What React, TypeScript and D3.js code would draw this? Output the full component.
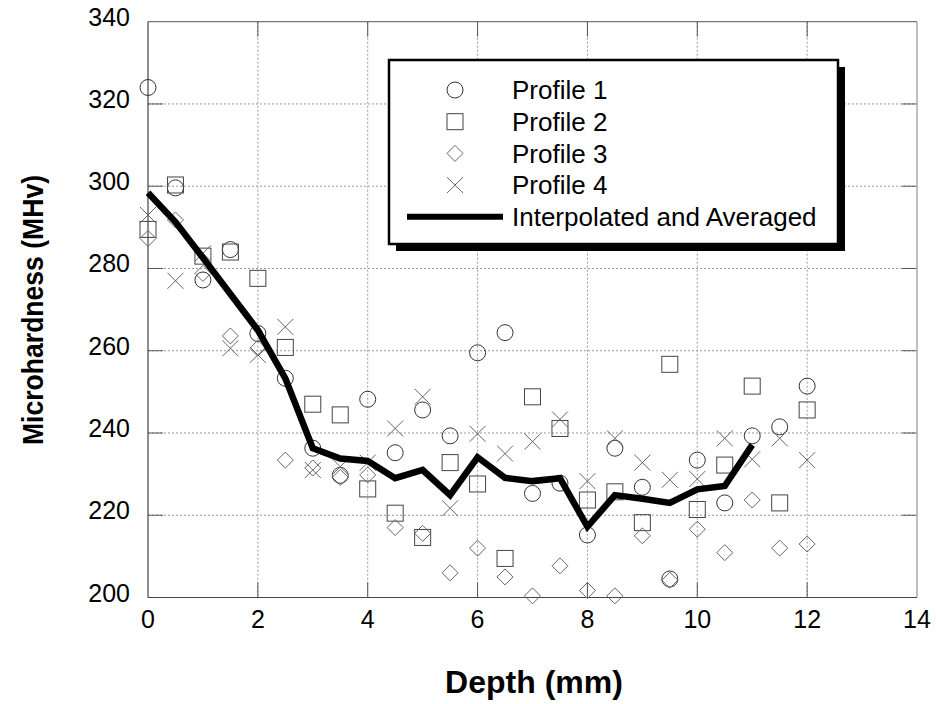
import React from "react";
import * as d3 from "d3";

const depths = [0, 0.5, 1, 1.5, 2, 2.5, 3, 3.5, 4, 4.5, 5, 5.5, 6, 6.5, 7, 7.5, 8, 8.5, 9, 9.5, 10, 10.5, 11, 11.5, 12];
const profile1 = [324, 299.6, 277.2, 284.6, 264.2, 253.3, 236.3, 229.7, 248.2, 235.2, 245.6, 239.3, 259.5, 264.4, 225.3, 227.8, 215.2, 236.3, 226.8, 204.5, 233.4, 223, 239.3, 241.5, 251.4];
const profile2 = [289.5, 300.3, 283, 284, 277.6, 260.8, 247, 244.4, 226.4, 220.5, 214.6, 232.8, 227.6, 209.5, 248.8, 241.1, 223.7, 225.7, 218.2, 256.7, 221.4, 232.2, 251.4, 223, 245.6];
const profile3 = [287.3, 291.8, 278.8, 263.6, 260.6, 233.4, 231.5, 229.2, 229.8, 217, 215.6, 206, 212, 205, 200.4, 207.7, 201.7, 200.4, 215, 204.2, 216.6, 210.9, 223.7, 212, 213];
const profile4 = [293, 277, 283.7, 260.6, 259, 265.8, 231, 231.8, 232.8, 241.1, 248.8, 221.7, 239.8, 235, 237.9, 243.3, 228.3, 238.7, 232.8, 228.6, 228.8, 238.7, 233.6, 238.7, 233.4];
const averaged = [298.4, 291.3, 282.6, 273.8, 265, 253.3, 236.3, 233.8, 233.2, 229, 231, 224.9, 234.1, 229.1, 228.3, 229, 217.2, 224.9, 224, 223, 226.3, 227.1, 237.1];

const xTicks = [0, 2, 4, 6, 8, 10, 12, 14];
const yTicks = [200, 220, 240, 260, 280, 300, 320, 340];
const legendLabels = ["Profile 1", "Profile 2", "Profile 3", "Profile 4", "Interpolated and Averaged"];

const W = 936, H = 704;
const left = 148, right = 917, top = 21.7, bottom = 597.5;
const FONT = "'Liberation Sans', Arial, Helvetica, sans-serif";

const x = d3.scaleLinear().domain([0, 14]).range([left, right]);
const y = d3.scaleLinear().domain([200, 340]).range([bottom, top]);

const R = 8;
function marker(kind: number, cx: number, cy: number, key: string) {
  if (kind === 0) return <circle key={key} cx={cx} cy={cy} r={R} fill="none" stroke="#333" strokeWidth={1} />;
  if (kind === 1) return <rect key={key} x={cx - R} y={cy - R} width={2 * R} height={2 * R} fill="none" stroke="#444" strokeWidth={1} />;
  if (kind === 2) return <path key={key} d={`M${cx},${cy - R}L${cx + R},${cy}L${cx},${cy + R}L${cx - R},${cy}Z`} fill="none" stroke="#666" strokeWidth={1} />;
  return <path key={key} d={`M${cx - R},${cy - R}L${cx + R},${cy + R}M${cx - R},${cy + R}L${cx + R},${cy - R}`} fill="none" stroke="#666" strokeWidth={1} />;
}

export default function App() {
  const profiles = [profile1, profile2, profile3, profile4];
  const line = d3.line<number>().x((_, i) => x(depths[i])).y(d => y(d));
  const tickLen = 15;

  const lx = 389, ly = 60, lw = 449, lh = 184;
  const rowY = (i: number) => 90 + i * 31.7;

  return (
    <svg width={W} height={H} style={{ position: "absolute", left: 0, top: 0, background: "#fff" }}>
      <rect width={W} height={H} fill="#fff" />
      {/* grid */}
      {xTicks.slice(1, -1).map(t => (
        <line key={"gx" + t} x1={x(t)} x2={x(t)} y1={top} y2={bottom} stroke="#999" strokeWidth={1} strokeDasharray="2,2" />
      ))}
      {yTicks.slice(1, -1).map(t => (
        <line key={"gy" + t} x1={left} x2={right} y1={y(t)} y2={y(t)} stroke="#999" strokeWidth={1} strokeDasharray="2,2" />
      ))}
      {/* ticks */}
      {xTicks.slice(1, -1).map(t => (
        <g key={"tx" + t} stroke="#555" strokeWidth={1}>
          <line x1={x(t)} x2={x(t)} y1={bottom} y2={bottom - tickLen} />
          <line x1={x(t)} x2={x(t)} y1={top} y2={top + tickLen} />
        </g>
      ))}
      {yTicks.slice(1, -1).map(t => (
        <g key={"ty" + t} stroke="#555" strokeWidth={1}>
          <line x1={left} x2={left + tickLen} y1={y(t)} y2={y(t)} />
          <line x1={right} x2={right - tickLen} y1={y(t)} y2={y(t)} />
        </g>
      ))}
      {/* frame */}
      <line x1={left} x2={right} y1={top} y2={top} stroke="#555" strokeWidth={1} />
      <line x1={right} x2={right} y1={top} y2={bottom} stroke="#aaa" strokeWidth={1.5} />
      <line x1={left} x2={left} y1={top} y2={bottom} stroke="#444" strokeWidth={1.2} />
      <line x1={left} x2={right} y1={bottom} y2={bottom} stroke="#444" strokeWidth={1.2} />
      {/* tick labels */}
      {xTicks.map(t => (
        <text key={"lx" + t} x={x(t)} y={628} textAnchor="middle" fontFamily={FONT} fontSize={25} fill="#000">{t}</text>
      ))}
      {yTicks.map(t => (
        <text key={"ly" + t} x={130} y={y(t) - 5} dy="0.36em" textAnchor="end" fontFamily={FONT} fontSize={25} fill="#000">{t}</text>
      ))}
      {/* axis titles */}
      <text x={534} y={693} textAnchor="middle" fontFamily={FONT} fontSize={32} fontWeight="bold">Depth (mm)</text>
      <text transform={`translate(43,310) rotate(-90)`} textAnchor="middle" fontFamily={FONT} fontSize={30} fontWeight="bold"
        textLength={270} lengthAdjust="spacingAndGlyphs">Microhardness (MHv)</text>
      {/* markers */}
      {profiles.map((p, k) => p.map((v, i) => marker(k, x(depths[i]), y(v), `m${k}-${i}`)))}
      {/* averaged line */}
      <path d={line(averaged) || ""} fill="none" stroke="#000" strokeWidth={6.5} strokeLinejoin="miter" />
      {/* legend */}
      <rect x={lx + 7} y={ly + 7} width={lw} height={lh} fill="#000" />
      <rect x={lx} y={ly} width={lw} height={lh} fill="#fff" stroke="#000" strokeWidth={2.5} />
      {legendLabels.map((lab, i) => (
        <g key={"lg" + i}>
          {i < 4 ? marker(i, 455, rowY(i), "lm" + i) : <line x1={407} x2={503} y1={rowY(i)} y2={rowY(i)} stroke="#000" strokeWidth={6} />}
          <text x={512} y={rowY(i)} dy="0.36em" fontFamily={FONT} fontSize={26} fill="#000">{lab}</text>
        </g>
      ))}
    </svg>
  );
}
